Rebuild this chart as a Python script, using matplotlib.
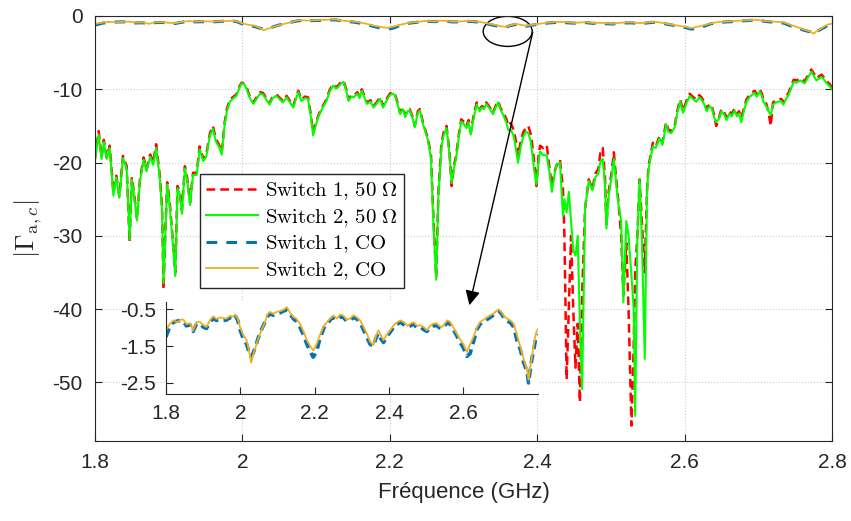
import numpy as np
import matplotlib
matplotlib.use('Agg')
from matplotlib import pyplot as plt
from matplotlib.patches import Ellipse, ConnectionPatch

plt.rcParams['font.family'] = ['Liberation Sans', 'DejaVu Sans']
plt.rcParams['mathtext.fontset'] = 'cm'
plt.rcParams['axes.unicode_minus'] = False

# ---- data ----
# 50 Ohm curves (dB)
freq_50 = [
    1.800, 1.805, 1.809, 1.812, 1.816, 1.820, 1.825, 1.829, 1.833, 1.838, 1.843, 1.847,
    1.850, 1.854, 1.857, 1.861, 1.866, 1.870, 1.875, 1.879, 1.883, 1.888, 1.891, 1.893,
    1.896, 1.898, 1.901, 1.904, 1.909, 1.912, 1.915, 1.918, 1.922, 1.925, 1.929, 1.933,
    1.938, 1.942, 1.947, 1.951, 1.956, 1.960, 1.964, 1.968, 1.972, 1.976, 1.979, 1.983,
    1.988, 1.992, 1.996, 1.999, 2.003, 2.006, 2.010, 2.015, 2.020, 2.024, 2.028, 2.033,
    2.037, 2.041, 2.046, 2.051, 2.055, 2.060, 2.064, 2.069, 2.073, 2.076, 2.080, 2.085,
    2.089, 2.093, 2.096, 2.100, 2.103, 2.108, 2.114, 2.118, 2.123, 2.127, 2.130, 2.134,
    2.137, 2.141, 2.144, 2.148, 2.151, 2.156, 2.159, 2.162, 2.166, 2.169, 2.174, 2.178,
    2.182, 2.187, 2.191, 2.196, 2.200, 2.204, 2.207, 2.211, 2.214, 2.218, 2.221, 2.224,
    2.227, 2.231, 2.234, 2.238, 2.241, 2.245, 2.249, 2.252, 2.256, 2.259, 2.263, 2.266,
    2.270, 2.273, 2.277, 2.281, 2.284, 2.287, 2.290, 2.294, 2.297, 2.301, 2.304, 2.307,
    2.310, 2.314, 2.318, 2.322, 2.325, 2.328, 2.331, 2.336, 2.340, 2.344, 2.347, 2.350,
    2.354, 2.358, 2.361, 2.364, 2.368, 2.371, 2.374, 2.378, 2.381, 2.385, 2.388, 2.391,
    2.393, 2.396, 2.399, 2.402, 2.404, 2.408, 2.413, 2.417, 2.420, 2.423, 2.426, 2.431,
    2.435, 2.437, 2.440, 2.443, 2.446, 2.449, 2.452, 2.455, 2.458, 2.461, 2.465, 2.470,
    2.475, 2.479, 2.483, 2.486, 2.489, 2.492, 2.494, 2.497, 2.501, 2.504, 2.507, 2.510,
    2.514, 2.517, 2.521, 2.524, 2.528, 2.531, 2.533, 2.536, 2.539, 2.542, 2.546, 2.549,
    2.551, 2.554, 2.557, 2.561, 2.566, 2.570, 2.575, 2.578, 2.582, 2.587, 2.590, 2.594,
    2.598, 2.603, 2.607, 2.611, 2.616, 2.620, 2.623, 2.627, 2.630, 2.634, 2.637, 2.640,
    2.643, 2.647, 2.650, 2.654, 2.657, 2.661, 2.664, 2.668, 2.671, 2.674, 2.677, 2.681,
    2.684, 2.688, 2.691, 2.695, 2.698, 2.702, 2.705, 2.707, 2.711, 2.714, 2.717, 2.720,
    2.724, 2.727, 2.731, 2.734, 2.738, 2.741, 2.745, 2.748, 2.752, 2.757, 2.760, 2.763,
    2.768, 2.772, 2.775, 2.779, 2.783, 2.786, 2.790, 2.793, 2.797, 2.800]

sw1_50 = [
    -19.5, -15.7, -19.3, -16.9, -19.3, -17.7, -24.1, -21.8, -24.6, -19.1, -20.5, -30.9,
    -22.0, -25.0, -27.7, -22.3, -19.3, -20.9, -18.9, -20.0, -17.5, -21.8, -26.0, -37.3,
    -28.0, -22.7, -25.0, -28.6, -35.0, -23.2, -24.0, -26.5, -20.5, -22.0, -25.5, -21.4,
    -21.4, -17.8, -19.5, -18.9, -16.0, -15.0, -16.8, -17.5, -18.6, -14.5, -12.7, -11.4,
    -11.0, -10.7, -9.6, -9.1, -9.3, -9.8, -11.0, -11.8, -11.0, -10.4, -10.5, -11.3,
    -11.9, -11.0, -10.7, -11.2, -11.6, -10.9, -11.5, -12.3, -11.0, -10.2, -11.4, -11.0,
    -11.1, -13.5, -15.9, -14.6, -13.6, -12.5, -11.4, -10.2, -9.3, -9.7, -9.5, -9.0,
    -8.8, -10.0, -11.4, -10.8, -10.9, -10.4, -11.0, -10.0, -11.0, -11.8, -11.5, -12.3,
    -11.8, -11.1, -12.3, -11.3, -10.6, -10.4, -10.6, -12.0, -13.2, -12.5, -13.6, -12.8,
    -12.7, -13.8, -15.0, -13.0, -12.7, -14.5, -15.8, -16.8, -19.1, -27.0, -35.7, -24.0,
    -17.5, -15.9, -15.0, -18.5, -23.2, -20.5, -19.1, -16.0, -14.1, -14.5, -15.0, -14.2,
    -15.9, -13.5, -11.8, -12.8, -12.3, -12.5, -11.8, -12.5, -13.2, -12.2, -11.6, -12.5,
    -13.2, -14.0, -15.0, -14.6, -15.5, -17.0, -19.1, -17.0, -15.9, -15.2, -15.0, -16.0,
    -17.3, -20.0, -23.2, -19.0, -17.7, -18.0, -17.6, -21.0, -23.2, -21.5, -20.5, -19.6,
    -23.6, -30.0, -49.6, -40.0, -30.0, -40.0, -48.0, -42.0, -52.7, -38.0, -26.3, -22.3,
    -23.6, -21.5, -20.9, -18.5, -18.0, -22.0, -28.6, -24.0, -21.4, -18.6, -22.0, -25.0,
    -30.0, -38.0, -31.0, -40.0, -55.9, -45.0, -35.0, -30.0, -22.3, -28.0, -35.0, -24.0,
    -20.5, -19.0, -17.3, -17.8, -16.4, -17.3, -14.5, -15.5, -15.7, -14.8, -13.0, -11.4,
    -12.9, -11.5, -10.6, -11.0, -11.4, -10.8, -11.1, -11.8, -12.7, -12.0, -12.3, -13.5,
    -15.0, -13.8, -12.7, -13.2, -13.9, -13.0, -13.4, -12.6, -13.4, -13.0, -13.9, -12.5,
    -11.4, -10.8, -10.5, -10.2, -10.7, -10.0, -10.6, -11.4, -12.0, -13.2, -15.0, -11.8,
    -11.5, -11.4, -11.3, -11.8, -11.0, -10.5, -9.5, -8.7, -8.8, -8.5, -8.7, -8.9,
    -8.0, -7.3, -7.8, -8.5, -8.2, -8.0, -8.5, -8.9, -9.3, -9.8]

sw2_50 = [
    -19.7, -16.2, -19.5, -17.2, -19.5, -18.0, -24.5, -22.0, -24.8, -19.4, -20.8, -30.5,
    -22.3, -25.3, -27.9, -22.6, -19.6, -21.2, -19.2, -20.3, -18.0, -22.2, -26.5, -36.5,
    -28.5, -23.0, -25.5, -29.0, -35.5, -23.5, -24.3, -27.0, -20.8, -22.3, -25.8, -21.7,
    -21.7, -18.2, -19.8, -19.2, -16.3, -15.4, -17.1, -17.8, -18.9, -14.8, -13.0, -11.7,
    -11.2, -10.9, -9.8, -9.2, -9.4, -10.0, -11.2, -12.0, -11.2, -10.6, -10.7, -11.5,
    -12.1, -11.2, -10.9, -11.4, -11.8, -11.1, -11.7, -12.5, -11.2, -10.4, -11.6, -11.2,
    -11.3, -13.8, -16.3, -14.8, -13.8, -12.7, -11.6, -10.4, -9.5, -9.9, -9.7, -9.2,
    -9.0, -10.2, -11.6, -11.0, -11.1, -10.6, -11.2, -10.2, -11.2, -12.0, -11.7, -12.5,
    -12.0, -11.3, -12.5, -11.5, -10.8, -10.6, -10.8, -12.2, -13.4, -12.7, -13.8, -13.0,
    -12.9, -14.0, -15.2, -13.2, -12.9, -14.7, -16.0, -17.0, -19.5, -28.0, -36.0, -24.5,
    -18.0, -16.3, -15.3, -18.8, -22.8, -20.8, -19.5, -16.3, -14.4, -14.8, -15.3, -14.5,
    -16.2, -13.8, -12.1, -13.0, -12.5, -12.7, -12.0, -12.7, -13.4, -12.4, -11.8, -12.7,
    -13.5, -14.5, -15.6, -15.5, -16.3, -18.0, -20.0, -17.8, -16.5, -15.8, -16.0, -17.0,
    -18.5, -21.0, -23.0, -19.8, -18.5, -19.0, -19.0, -21.5, -24.0, -22.0, -20.3, -20.0,
    -27.3, -25.0, -26.8, -24.0, -28.0, -32.0, -32.7, -30.0, -42.0, -50.9, -26.3, -22.5,
    -23.8, -22.0, -21.5, -19.8, -19.5, -23.0, -29.0, -24.5, -22.0, -19.5, -22.5, -25.5,
    -28.0, -39.1, -28.0, -30.0, -35.5, -40.0, -54.6, -30.0, -22.3, -30.0, -46.8, -24.0,
    -21.0, -19.3, -17.8, -18.0, -16.7, -17.6, -14.8, -15.8, -16.0, -15.1, -13.3, -11.7,
    -13.2, -11.8, -10.9, -11.3, -11.7, -11.1, -11.4, -12.1, -13.0, -12.3, -12.6, -13.8,
    -14.5, -14.0, -13.0, -13.5, -14.2, -13.3, -13.7, -12.9, -13.7, -13.3, -14.5, -12.8,
    -11.7, -11.1, -10.8, -10.5, -11.0, -10.3, -10.9, -11.7, -12.3, -13.0, -13.5, -12.1,
    -11.8, -11.7, -11.6, -12.1, -11.3, -10.8, -9.8, -9.0, -9.1, -8.8, -9.0, -9.2,
    -8.3, -7.6, -8.1, -8.8, -8.5, -8.3, -8.8, -9.2, -9.6, -10.0]

# open circuit curves (dB)
freq_co = [
    1.800, 1.810, 1.820, 1.830, 1.840, 1.847, 1.855, 1.865, 1.873, 1.882, 1.891, 1.900,
    1.909, 1.918, 1.927, 1.936, 1.945, 1.954, 1.963, 1.972, 1.980, 1.986, 1.993, 1.999,
    2.008, 2.017, 2.023, 2.029, 2.034, 2.040, 2.048, 2.057, 2.066, 2.074, 2.080, 2.088,
    2.098, 2.106, 2.115, 2.125, 2.133, 2.143, 2.150, 2.160, 2.170, 2.179, 2.188, 2.196,
    2.205, 2.214, 2.225, 2.237, 2.245, 2.250, 2.260, 2.268, 2.277, 2.286, 2.295, 2.304,
    2.313, 2.322, 2.331, 2.340, 2.349, 2.358, 2.364, 2.371, 2.378, 2.385, 2.393, 2.403,
    2.415, 2.430, 2.440, 2.450, 2.457, 2.466, 2.475, 2.484, 2.493, 2.502, 2.510, 2.519,
    2.528, 2.535, 2.542, 2.550, 2.557, 2.564, 2.573, 2.582, 2.590, 2.600, 2.609, 2.618,
    2.627, 2.636, 2.645, 2.655, 2.663, 2.672, 2.680, 2.688, 2.695, 2.702, 2.710, 2.717,
    2.726, 2.735, 2.744, 2.753, 2.762, 2.771, 2.775, 2.779, 2.784, 2.790, 2.795, 2.800]

sw2_co = [
    -1.07, -0.90, -0.80, -0.85, -0.78, -0.78, -0.90, -0.88, -1.07, -0.85, -0.84, -0.92,
    -0.98, -0.80, -0.69, -0.76, -0.72, -0.74, -0.75, -0.68, -0.70, -0.64, -0.75, -0.98,
    -1.20, -1.34, -1.60, -1.95, -1.75, -1.56, -1.30, -1.07, -0.85, -0.62, -0.57, -0.62,
    -0.57, -0.55, -0.52, -0.44, -0.58, -0.71, -0.75, -0.89, -1.10, -1.34, -1.50, -1.62,
    -1.45, -1.20, -0.95, -0.80, -0.72, -0.67, -0.75, -0.64, -0.67, -0.78, -0.75, -0.66,
    -0.71, -0.80, -0.98, -1.15, -1.38, -1.47, -1.25, -1.07, -1.20, -1.34, -1.20, -1.07,
    -0.90, -0.80, -0.85, -0.95, -0.89, -0.85, -0.95, -0.93, -0.98, -1.07, -0.95, -0.89,
    -0.88, -0.95, -0.98, -0.88, -0.80, -0.84, -1.00, -1.16, -1.30, -1.45, -1.66, -1.45,
    -1.25, -1.00, -0.84, -0.78, -0.72, -0.66, -0.62, -0.55, -0.50, -0.58, -0.70, -0.75,
    -0.80, -0.89, -1.20, -1.52, -1.85, -2.15, -2.42, -2.10, -1.80, -1.40, -1.15, -1.04]

sw1_co = [
    -1.25, -0.98, -0.85, -0.82, -0.80, -0.84, -0.95, -0.92, -1.10, -0.90, -0.88, -0.98,
    -1.02, -0.85, -0.75, -0.80, -0.78, -0.80, -0.79, -0.72, -0.74, -0.66, -0.80, -1.05,
    -1.30, -1.45, -1.65, -1.78, -1.70, -1.55, -1.28, -1.05, -0.85, -0.68, -0.62, -0.66,
    -0.62, -0.60, -0.55, -0.52, -0.62, -0.76, -0.82, -0.98, -1.20, -1.45, -1.65, -1.80,
    -1.65, -1.30, -1.00, -0.85, -0.75, -0.72, -0.78, -0.70, -0.72, -0.82, -0.80, -0.72,
    -0.76, -0.86, -1.05, -1.25, -1.45, -1.50, -1.30, -1.15, -1.30, -1.40, -1.25, -1.12,
    -0.95, -0.85, -0.92, -0.98, -0.95, -0.90, -1.00, -0.98, -1.05, -1.10, -1.00, -0.95,
    -0.94, -1.00, -1.02, -0.94, -0.86, -0.90, -1.05, -1.22, -1.38, -1.55, -1.78, -1.70,
    -1.38, -1.05, -0.90, -0.82, -0.78, -0.72, -0.66, -0.60, -0.55, -0.62, -0.75, -0.82,
    -0.86, -0.98, -1.35, -1.60, -1.95, -2.18, -2.50, -2.18, -1.85, -1.55, -1.25, -1.18]

labels = [r'$\mathrm{Switch\ 1{,}\ 50\ \Omega}$', r'$\mathrm{Switch\ 2{,}\ 50\ \Omega}$',
          r'$\mathrm{Switch\ 1{,}\ CO}$', r'$\mathrm{Switch\ 2{,}\ CO}$']

c_red = (1, 0, 0)
c_green = (0, 1, 0)
c_blue = (0, 0.447, 0.741)
c_yellow = (0.929, 0.694, 0.125)

fig = plt.figure(figsize=(8.51, 5.21), dpi=100)
ax = fig.add_axes([0.1116, 0.1536, 0.866, 0.8157])

ax.plot(freq_50, sw1_50, '--', color=c_red, lw=1.8, dashes=(3.5, 2), label=labels[0])
ax.plot(freq_50, sw2_50, '-', color=c_green, lw=1.5, label=labels[1])
ax.plot(freq_co, sw1_co, '--', color=c_blue, lw=2.2, dashes=(3.5, 3), label=labels[2])
ax.plot(freq_co, sw2_co, '-', color=c_yellow, lw=1.3, label=labels[3])

ax.set_xlim(1.8, 2.8)
ax.set_ylim(-58, 0)
ax.set_xticks([1.8, 2.0, 2.2, 2.4, 2.6, 2.8])
ax.set_xticklabels(['1.8', '2', '2.2', '2.4', '2.6', '2.8'])
ax.set_yticks([0, -10, -20, -30, -40, -50])
ax.tick_params(direction='in', top=True, right=True, labelsize=15, colors='0.15',
               length=5, pad=9)
ax.grid(True, linestyle=':', color='0.8', lw=0.8)
for s in ax.spines.values():
    s.set_color('0.15')

ax.set_xlabel('Fréquence (GHz)', fontsize=16, color='0.15', labelpad=7)
ax.set_ylabel(r'$|\Gamma_{\mathrm{a},c}|$', fontsize=19, color='0.15', labelpad=6)

leg = ax.legend(loc='upper left', bbox_to_anchor=(0.1425, 0.628), borderaxespad=0,
                fontsize=15, fancybox=False, framealpha=1, edgecolor='0.15',
                handlelength=2.5, handletextpad=0.3, labelspacing=0.22, borderpad=0.3)
leg.get_frame().set_linewidth(1.0)

# ellipse marking the CO curves
ell = Ellipse((2.360, -2.1), 0.0665, 4.1, fill=False, edgecolor='k', lw=1.0)
ax.add_patch(ell)

# inset
axi = fig.add_axes([0.195, 0.2438, 0.437, 0.1766])
axi.plot(freq_co, sw1_co, '--', color=c_blue, lw=2.6, dashes=(2.5, 1.5))
axi.plot(freq_co, sw2_co, '-', color=c_yellow, lw=1.3)
axi.set_xlim(1.8, 2.8)
axi.set_ylim(-2.8, -0.3)
axi.set_xticks([1.8, 2.0, 2.2, 2.4, 2.6])
axi.set_xticklabels(['1.8', '2', '2.2', '2.4', '2.6'])
axi.set_yticks([-2.5, -1.5, -0.5])
axi.set_yticklabels(['-2.5', '-1.5', '-0.5'])
axi.tick_params(direction='in', labelsize=15, colors='0.15', length=5, pad=7)
axi.spines['top'].set_visible(False)
axi.spines['right'].set_visible(False)
for s in ['left', 'bottom']:
    axi.spines[s].set_color('0.15')

arrow = ConnectionPatch(xyA=(2.394, -2.2), coordsA=ax.transData,
                        xyB=(2.616, -0.39), coordsB=axi.transData,
                        arrowstyle='-|>', mutation_scale=22, color='k', lw=1.0)
fig.add_artist(arrow)

plt.savefig('out.png', dpi=100)
